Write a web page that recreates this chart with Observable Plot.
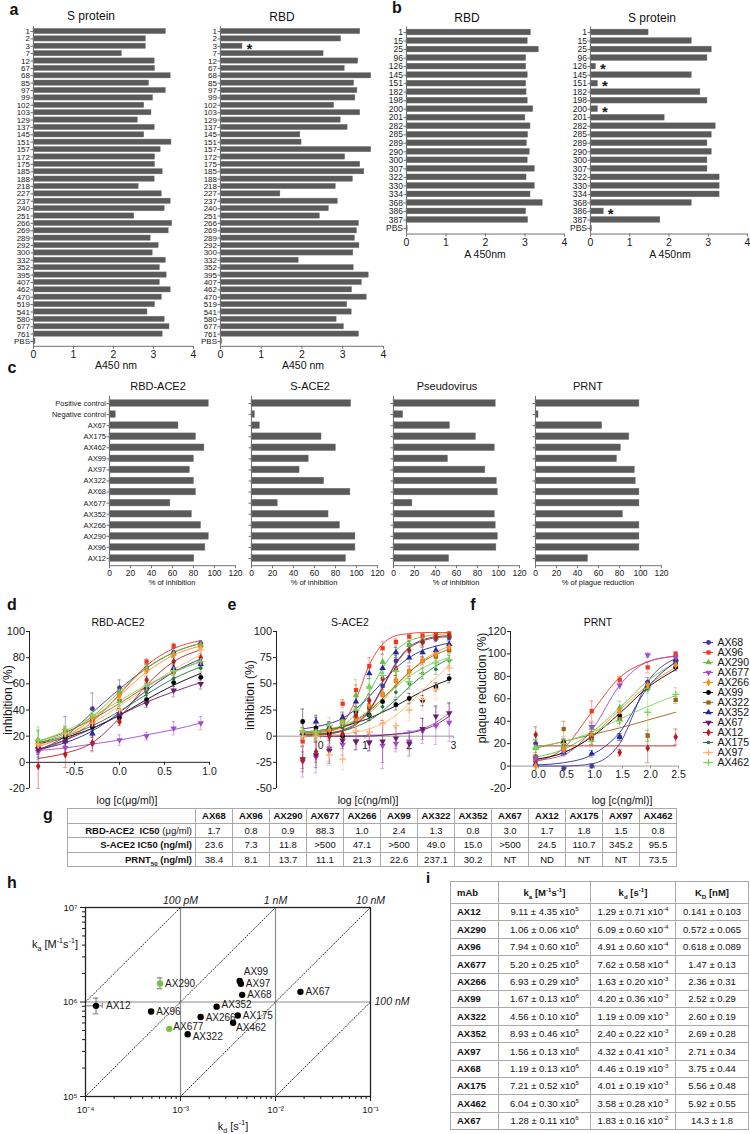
<!DOCTYPE html>
<html><head><meta charset="utf-8">
<script src="https://cdn.jsdelivr.net/npm/d3@7"></script>
<script src="https://cdn.jsdelivr.net/npm/@observablehq/plot@0.6"></script>
<style>
body{margin:0;background:#fff;}
#root{position:relative;width:750px;height:1134px;overflow:hidden;font-family:"Liberation Sans",Arial,Helvetica,sans-serif;color:#111;background:#fff;}
.abs{position:absolute;white-space:nowrap;line-height:1;}
sup,sub{font-size:65%;line-height:0;}
table.t{position:absolute;border-collapse:collapse;table-layout:fixed;font-family:"Liberation Sans",Arial,sans-serif;color:#111;}
table.t td{border:1px solid #a9a9a9;padding:0;text-align:center;line-height:1;white-space:nowrap;}
</style></head><body><div id="root"></div>
<script>
// ---------------- DATA ----------------
// panel a
const aLabels = ["1","2","3","7","12","67","68","85","97","99","102","103","129","137","145","151","157","172","175","185","188","218","227","237","240","251","266","269","289","292","300","332","352","395","407","462","470","519","541","580","677","761","PBS"];
const aSprotein = [3.31,2.81,2.81,2.21,3.03,3.04,3.43,2.89,3.31,2.99,2.77,2.95,2.61,3.03,2.77,3.45,3.18,3.04,3.04,3.23,3.03,2.63,3.21,3.43,3.28,2.52,3.47,3.38,2.93,3.13,2.98,3.31,3.16,3.33,3.16,3.43,3.21,3.04,2.85,3.28,3.40,3.23,0.05];
const aRBD = [3.43,2.96,0.54,2.53,3.38,3.05,3.70,3.28,3.36,3.31,2.79,3.43,2.95,3.12,1.96,1.99,3.70,3.06,3.43,3.53,3.25,2.83,1.47,2.88,2.66,2.44,3.40,3.35,3.30,3.41,3.26,1.92,3.27,3.64,3.47,3.23,3.59,3.11,3.22,2.85,3.03,3.40,0.04];
const aRBDstar = ["3"];
// panel b
const bLabels = ["1","15","25","96","126","145","151","182","198","200","201","282","285","289","290","300","307","322","330","334","368","386","387","PBS"];
const bRBD = [3.15,3.07,3.35,3.03,3.03,3.07,3.03,3.04,3.07,3.21,3.01,3.14,3.08,3.05,3.12,3.07,3.25,3.04,3.25,3.14,3.45,3.03,3.08,0.03];
const bSprotein = [1.48,2.58,3.09,2.98,0.14,2.58,0.19,2.80,2.98,0.19,1.89,3.19,3.09,2.98,3.09,2.98,2.98,3.29,3.29,3.29,2.58,0.34,1.78,0.04];
const bSstar = ["126","151","200","386"];
const abTicks = [0,1,2,3,4];
// panel c
const cLabels = ["Positive control","Negative control","AX67","AX175","AX462","AX99","AX97","AX322","AX68","AX677","AX352","AX266","AX290","AX96","AX12"];
const cRBDACE2 = [94.6,6,65.7,82.4,90.4,80.4,76.6,80.4,82.4,58,78.5,87.2,94.6,91.3,80.8];
const cSACE2 = [94.9,3.2,8,66.7,80.4,54.5,45.8,69.2,94.2,25,73.4,84.3,99,99,90];
const cPseudo = [97.4,9.3,53.8,78.5,96.5,51.9,87.5,98.4,99.4,18,96.5,97.4,99.4,98,53];
const cPRNT = [99,2.9,63.5,89.4,81.4,77.6,94.6,95.5,99,99,83.3,99,99,99,50];
const cTicks = [0,20,40,60,80,100,120];
// panels d, e, f (series in legend order)
const seriesNames = ["AX68","AX96","AX290","AX677","AX266","AX99","AX322","AX352","AX67","AX12","AX175","AX97","AX462"];
const dX = [-0.903,-0.602,-0.301,0,0.301,0.602,0.903];
const dPoints = [
 [9,21,41,57,72,84,91],[11,24,32,53,77,89,89],[17,23,35,54,72,83,90],[8,11,14,17,20,26,30],
 [13,22,34,51,70,82,88],[14,19,27,34,48,61,65],[15,24,33,47,56,69,75],[12,16,22,37,57,72,75],
 [10,16,29,37,45,55,60],[-3,6,15,31,63,77,80],[16,20,28,38,53,64,72],[14,22,30,40,58,70,86],
 [17,25,36,46,58,70,77]];
const dErr = [
 [5,14,12,6,3,3,2],[3,3,3,3,2,2,2],[10,3,3,3,2,2,1],[6,5,6,4,3,5,5],
 [3,3,3,3,2,2,2],[3,3,3,3,3,3,2],[3,3,3,4,3,3,3],[4,3,3,4,3,3,3],
 [4,4,4,4,3,5,4],[17,10,6,3,3,3,3],[8,3,3,3,3,3,3],[4,4,3,3,3,3,3],[8,3,3,3,3,3,3]];
const dFit = [
 [9,20,38,56,72,84,91],[9,17,31,52,74,87,93],[15,22,35,54,72,84,91],[9,11,14,17,21,25,30],
 [12,20,33,51,69,82,89],[14,19,26,36,48,59,68],[16,23,33,45,58,69,77],[10,15,24,38,55,69,79],
 [10,17,26,36,46,54,61],[3,7,15,34,59,77,86],[15,20,28,39,52,64,73],[13,20,30,43,57,71,82],
 [16,24,35,47,59,69,77]];
const eX = [-0.408,-0.107,0.194,0.495,0.796,1.097,1.398,1.699,2.0,2.301,2.602,2.903];
const ePoints = [
 [2,3,5,12,18,27,48,72,87,90,93,94],[-5,3,6,31,44,67,84,90,95,96,97,98],[3,3,8,15,39,47,71,80,87,92,94,96],
 [-24,-20,-12,-8,-5,-6,-9,-7,-5,5,10,13],[4,3,6,13,17,30,40,53,62,72,78,85],[14,8,2,0,23,20,33,30,36,34,47,55],
 [4,3,8,16,17,28,40,53,62,72,76,82],[3,14,8,18,33,60,65,80,75,80,82,88],[-22,-18,-14,-4,-5,-6,-5,-2,-7,7,19,22],
 [-23,-15,0,2,20,34,55,64,82,90,94,96],[4,2,7,8,18,20,28,42,50,60,64,72],[0,0,-18,-22,5,4,12,10,25,35,45,65],
 [5,4,10,12,25,47,58,62,52,60,70,73]];
const eErr = [
 [3,3,3,4,4,4,5,5,4,3,3,2],[5,3,3,4,5,8,6,3,2,2,2,2],[5,4,4,5,15,8,8,5,4,3,2,2],
 [15,15,12,10,8,8,22,8,8,12,18,18],[10,8,6,8,10,5,5,5,5,4,4,3],[12,10,6,5,5,5,5,5,5,5,4,4],
 [8,6,5,5,6,5,5,5,5,4,4,3],[5,6,6,5,5,5,5,5,5,5,4,3],[12,12,12,8,8,8,20,10,12,10,10,10],
 [8,10,10,8,6,6,6,6,5,4,3,2],[8,6,6,5,5,5,5,5,5,5,5,5],[10,12,10,10,10,10,10,10,10,10,10,10],
 [10,8,8,8,8,10,8,6,6,6,6,5]];
const eFit = [
 [1,2,3,6,12,25,47,70,85,92,95,96],[-1,1,4,12,35,68,88,96,98,99,99,99],[2,3,5,10,22,42,65,82,91,95,97,98],
 [0,0,0,0,0,1,1,2,4,7,13,22],[2,3,5,8,14,22,34,48,61,72,80,86],[4,5,7,9,13,17,23,29,36,43,49,54],
 [3,4,6,9,15,24,36,49,61,71,78,83],[7,9,12,17,26,38,52,65,75,82,86,89],[0,0,0,0,0,0,1,2,3,6,11,19],
 [0,1,2,5,11,24,46,69,84,91,94,95],[1,2,3,5,9,15,24,35,47,58,67,74],[0,0,1,2,4,7,12,20,31,44,56,67],
 [4,5,7,10,16,25,36,47,57,65,71,75]];
const fNames = ["AX68","AX96","AX290","AX677","AX266","AX99","AX322","AX352","AX12","AX462"];
const fX = [-0.05,0.45,0.95,1.45,1.95,2.45];
const fPoints = [[20,-2,0,26,75,92],[5,16,49,77,88,100],[16,18,34,52,70,96],[7,13,35,72,99,97],[0,15,27,49,72,90],
 [7,21,26,45,70,88],[8,33,27,42,27,59],[2,12,11,26,72,95],[28,20,24,12,16,26],[16,20,22,40,48,64]];
const fErr = [[3,2,2,3,4,3],[3,4,9,3,5,2],[8,4,4,6,5,2],[2,3,4,3,2,2],[3,3,3,3,3,3],
 [3,3,3,3,3,3],[4,7,8,4,5,3],[2,3,3,3,3,2],[7,4,5,3,13,7],[8,4,5,5,25,6]];
const fFit = [[0,0,2,20,75,96],[4,16,48,79,93,98],[8,15,30,52,76,92],[5,10,32,72,93,98],[6,12,27,50,72,88],
 [6,12,26,47,70,86],[16,22,28,34,41,48],[1,3,10,30,70,93],[18,18,18,18,18,18],[17,22,30,42,53,63]];
// panel g
const gCols = ["AX68","AX96","AX290","AX677","AX266","AX99","AX322","AX352","AX67","AX12","AX175","AX97","AX462"];
const gRBD = ["1.7","0.8","0.9","88.3","1.0","2.4","1.3","0.8","3.0","1.7","1.8","1.5","0.8"];
const gSACE2 = ["23.6","7.3","11.8",">500","47.1",">500","49.0","15.0",">500","24.5","110.7","345.2","95.5"];
const gPRNT = ["38.4","8.1","13.7","11.1","21.3","22.6","237.1","30.2","NT","ND","NT","NT","73.5"];
// panel h
const hNames = ["AX12","AX290","AX96","AX677","AX266","AX99","AX322","AX352","AX97","AX68","AX175","AX462","AX67"];
const hKd = [1.29e-4,6.09e-4,4.91e-4,7.62e-4,1.63e-3,4.20e-3,1.19e-3,2.40e-3,4.32e-3,4.46e-3,4.01e-3,3.58e-3,1.83e-2];
const hKa = [9.11e5,1.57e6,7.94e5,5.20e5,6.93e5,1.67e6,4.56e5,8.93e5,1.56e6,1.19e6,7.21e5,6.04e5,1.28e6];
const hGreen = ["AX290","AX677"];
const hErrNames = ["AX12","AX290"];
const hErrKaLo = [7.5e5,1.38e6], hErrKaHi = [1.1e6,1.8e6];
const hErrKdLo = [1.02e-4,null], hErrKdHi = [1.5e-4,null];
const hKD = [1e-10,1e-9,1e-8,1e-7];
const hKDLabel = ["100 pM","1 nM","10 nM","100 nM"];
const hKdStart = [1e-4,1e-4,1e-3,1e-2], hKdEnd = [1e-3,1e-2,1e-1,1e-1];
// panel i
const iMab = ["AX12","AX290","AX96","AX677","AX266","AX99","AX322","AX352","AX97","AX68","AX175","AX462","AX67"];
const iKa = [["9.11","4.35","5"],["1.06","0.06","6"],["7.94","0.60","5"],["5.20","0.25","5"],["6.93","0.29","5"],["1.67","0.13","6"],["4.56","0.10","5"],["8.93","0.46","5"],["1.56","0.13","6"],["1.19","0.13","6"],["7.21","0.52","5"],["6.04","0.30","5"],["1.28","0.11","6"]];
const iKd = [["1.29","0.71","-4"],["6.09","0.60","-4"],["4.91","0.60","-4"],["7.62","0.58","-4"],["1.63","0.20","-3"],["4.20","0.36","-3"],["1.19","0.09","-3"],["2.40","0.22","-3"],["4.32","0.41","-3"],["4.46","0.19","-3"],["4.01","0.19","-3"],["3.58","0.28","-3"],["1.83","0.16","-2"]];
const iKD = ["0.141 ± 0.103","0.572 ± 0.065","0.618 ± 0.089","1.47 ± 0.13","2.36 ± 0.31","2.52 ± 0.29","2.60 ± 0.19","2.69 ± 0.28","2.71 ± 0.34","3.75 ± 0.44","5.56 ± 0.48","5.92 ± 0.55","14.3 ± 1.8"];

// ---------------- STYLE ----------------
const FONT = '"Liberation Sans", Arial, Helvetica, sans-serif';
const seriesColor = {AX68:"#45389a",AX96:"#f2371e",AX290:"#5fc23a",AX677:"#a24cc8",AX266:"#ff8a1c",AX99:"#000000",AX322:"#9a6216",AX352:"#26299b",AX67:"#6a1b6a",AX12:"#b3201f",AX175:"#1f7a3d",AX97:"#ffb470",AX462:"#7ed65c"};
const seriesSym = {AX68:"circle",AX96:"square",AX290:"triangle",AX677:"triDown",AX266:"diamond",AX99:"circle",AX322:"square",AX352:"triangle",AX67:"triDown",AX12:"diamond",AX175:"circle",AX97:"plus",AX462:"plus"};
const triDown = {draw(ctx, size){ const y = -Math.sqrt(size/(Math.sqrt(3)*3)); ctx.moveTo(0,-2*y); ctx.lineTo(-Math.sqrt(3)*y, y); ctx.lineTo(Math.sqrt(3)*y, y); ctx.closePath(); }};
// label offsets in the kinetics map (px)
const hLabelOffset = {AX99:[4,-9], AX462:[3,5], AX677:[4,-2], AX322:[5,3], AX266:[5,1], AX352:[5,-2], AX12:[10,0]};
const root = document.getElementById("root");

function place(svg, left, top){ svg.style.position="absolute"; svg.style.left=left+"px"; svg.style.top=top+"px"; root.appendChild(svg); }
function T(x, y, html, o = {}){
  const el = document.createElement("div"); el.className = "abs"; el.innerHTML = html;
  Object.assign(el.style, {left:x+"px", top:y+"px", fontSize:(o.size||11)+"px", fontWeight:o.weight||"normal", fontStyle:o.italic?"italic":"normal"});
  const tx = o.anchor==="start" ? "0" : o.anchor==="end" ? "-100%" : "-50%";
  el.style.transform = `translate(${tx},-50%)` + (o.rotate ? ` rotate(${o.rotate}deg)` : "");
  root.appendChild(el);
}

function barPanel(o){
  const n = o.labels.length, pad = 0.65;
  const step = (o.lastY - o.firstY)/(n-1);
  const marginTop = o.firstY - o.top - pad*step;
  const frameBottom = o.lastY - o.top + pad*step;
  const marginBottom = 22, marginLeft = o.x0 - o.left, marginRight = 10;
  const rows = o.labels.map((k,i)=>({k, i, v:o.values[i]}));
  const ax = "#707070";
  const marks = [
    Plot.rect(rows, {x1:0, x2:"v", y1:d=>d.i-o.thick, y2:d=>d.i+o.thick, fill:"#5a5a5a", stroke:"#7a7a7a", strokeWidth:0.4}),
    Plot.ruleX([0], {stroke:ax}),
    Plot.ruleY([n-1+pad], {x1:0, x2:o.xMax, stroke:ax}),
    Plot.axisY({ticks:d3.range(n), tickFormat:i => o.showY===false ? "" : o.labels[i], tickSize:2.5, tickPadding:1, fontSize:o.yFont, label:null, stroke:ax}),
    Plot.axisX({ticks:o.xTicks, tickFormat:d=>String(d), tickSize:3, tickPadding:1.5, fontSize:o.xFont, label:null, stroke:ax})
  ];
  if (o.stars) marks.push(Plot.text(rows.filter(d=>o.stars.includes(d.k)), {x:"v", y:"i", text:()=>"*", dx:4, dy:3, textAnchor:"start", fontSize:15, fontWeight:"bold"}));
  const svg = Plot.plot({width:o.x1-o.left+marginRight, height:frameBottom+marginBottom, marginTop, marginBottom, marginLeft, marginRight,
    x:{domain:[0,o.xMax]}, y:{domain:[n-1+pad,-pad]},
    style:{fontFamily:FONT, fontSize:o.yFont+"px", color:"#1a1a1a", background:"transparent", overflow:"visible"}, marks});
  place(svg, o.left, o.top);
}

function curvePanel(o){
  const marginLeft = o.x0 - o.left, marginRight = 12, marginTop = o.yTop - o.top, marginBottom = 14;
  const pxPerUnit = (o.yBot - o.yTop)/(o.yDomain[1]-o.yDomain[0]);
  const pts = [], fit = [];
  o.names.forEach((name,s)=>{ o.xs.forEach((x,j)=>{ pts.push({name, x, v:o.pts[s][j], e:o.err[s][j]}); fit.push({name, x, v:o.fit[s][j]}); }); });
  const col = d => seriesColor[d.name];
  const cap = o.cap;
  const marks = [
    Plot.ruleY([0], {x1:o.xDomain[0], x2:o.xDomain[1], stroke:o.zeroStroke}),
    Plot.ruleX(o.xTicks, {y1:0, y2:-3/pxPerUnit, stroke:o.zeroStroke}),
    Plot.text(o.xTicks, {x:d=>d, y:0, text:o.xFmt, dy:9, fontSize:10.5}),
    Plot.ruleX([o.xDomain[0]], {stroke:"#222"}),
    Plot.axisY({ticks:o.yTicks, tickFormat:d=>String(d), tickSize:3, tickPadding:1.5, fontSize:11, label:null, stroke:"#222"}),
    Plot.line(fit, {x:"x", y:"v", z:"name", stroke:col, strokeWidth:0.9, curve:"monotone-x"}),
    Plot.ruleX(pts, {x:"x", y1:d=>d.v-d.e, y2:d=>d.v+d.e, stroke:col, strokeOpacity:0.5, strokeWidth:0.9}),
    Plot.ruleY(pts, {y:d=>d.v+d.e, x1:d=>d.x-cap, x2:d=>d.x+cap, stroke:col, strokeOpacity:0.5, strokeWidth:0.9}),
    Plot.ruleY(pts, {y:d=>d.v-d.e, x1:d=>d.x-cap, x2:d=>d.x+cap, stroke:col, strokeOpacity:0.5, strokeWidth:0.9})
  ];
  for (const sym of ["circle","square","triangle","triDown","diamond","plus"]) {
    const sub = pts.filter(d => seriesSym[d.name]===sym);
    if (!sub.length) continue;
    marks.push(Plot.dot(sub, {x:"x", y:"v", symbol: sym==="triDown" ? triDown : sym, r: d=> d.name==="AX175" ? 1.8 : 2.4,
      fill: sym==="plus" ? "none" : col, stroke: sym==="plus" ? col : "none", strokeWidth:1.3}));
  }
  const svg = Plot.plot({width:o.x1-o.left+marginRight, height:o.yBot-o.top+marginBottom, marginTop, marginBottom, marginLeft, marginRight,
    x:{domain:o.xDomain, axis:null}, y:{domain:o.yDomain}, r:{type:"identity"},
    style:{fontFamily:FONT, fontSize:"11px", color:"#1a1a1a", background:"transparent", overflow:"visible"}, marks});
  place(svg, o.left, o.top);
}

// ---------------- PANEL a ----------------
barPanel({left:0, top:0, labels:aLabels, values:aSprotein, x0:33, x1:193, xMax:4, xTicks:abTicks, firstY:31, lastY:341, thick:0.36, yFont:8, xFont:10.5});
barPanel({left:180, top:0, labels:aLabels, values:aRBD, stars:aRBDstar, x0:220, x1:383, xMax:4, xTicks:abTicks, firstY:31, lastY:341, thick:0.36, yFont:8, xFont:10.5});
// ---------------- PANEL b ----------------
barPanel({left:370, top:0, labels:bLabels, values:bRBD, x0:406, x1:564, xMax:4, xTicks:abTicks, firstY:32, lastY:228, thick:0.34, yFont:8.5, xFont:10.5});
barPanel({left:555, top:0, labels:bLabels, values:bSprotein, stars:bSstar, x0:590, x1:747, xMax:4, xTicks:abTicks, firstY:32, lastY:228, thick:0.34, yFont:8.5, xFont:10.5});
// ---------------- PANEL c ----------------
barPanel({left:0, top:380, labels:cLabels, values:cRBDACE2, x0:109, x1:235, xMax:120, xTicks:cTicks, firstY:403, lastY:558, thick:0.3, yFont:7.5, xFont:8.5});
barPanel({left:240, top:380, labels:cLabels, values:cSACE2, showY:false, x0:251, x1:377, xMax:120, xTicks:cTicks, firstY:403, lastY:558, thick:0.3, yFont:7.5, xFont:8.5});
barPanel({left:382, top:380, labels:cLabels, values:cPseudo, showY:false, x0:393, x1:519, xMax:120, xTicks:cTicks, firstY:403, lastY:558, thick:0.3, yFont:7.5, xFont:8.5});
barPanel({left:524, top:380, labels:cLabels, values:cPRNT, showY:false, x0:535, x1:661, xMax:120, xTicks:cTicks, firstY:403, lastY:558, thick:0.3, yFont:7.5, xFont:8.5});
// ---------------- PANELS d e f ----------------
curvePanel({left:0, top:620, x0:29, x1:209, yTop:631, yBot:788, xDomain:[-1,1], yDomain:[-20,100], yTicks:[-20,0,20,40,60,80,100],
  xTicks:[-0.5,0,0.5,1], xFmt:d=>d.toFixed(1), names:seriesNames, xs:dX, pts:dPoints, err:dErr, fit:dFit, zeroStroke:"#222", cap:0.02});
curvePanel({left:240, top:620, x0:276, x1:453, yTop:631, yBot:788, xDomain:[-1,3], yDomain:[-50,100], yTicks:[-50,-25,0,25,50,75,100],
  xTicks:[0,1,2,3], xFmt:d=>String(d), names:seriesNames, xs:eX, pts:ePoints, err:eErr, fit:eFit, zeroStroke:"#9a9a9a", cap:0.04});
curvePanel({left:480, top:620, x0:510, x1:678, yTop:631, yBot:788, xDomain:[-0.5,2.5], yDomain:[-20,120], yTicks:[-20,0,20,40,60,80,100,120],
  xTicks:[0,0.5,1,1.5,2,2.5], xFmt:d=>d.toFixed(1), names:fNames, xs:fX, pts:fPoints, err:fErr, fit:fFit, zeroStroke:"#9a9a9a", cap:0.04});
// legend
{
  const rows = seriesNames.map(name=>({name}));
  const col = d => seriesColor[d.name];
  const marks = [Plot.ruleY(rows, {y:"name", x1:0, x2:1, stroke:col, strokeWidth:1})];
  for (const sym of ["circle","square","triangle","triDown","diamond","plus"]) {
    const sub = rows.filter(d=>seriesSym[d.name]===sym);
    marks.push(Plot.dot(sub, {x:0.5, y:"name", symbol: sym==="triDown" ? triDown : sym, r: d=> d.name==="AX175" ? 1.8 : 2.4,
      fill: sym==="plus" ? "none" : col, stroke: sym==="plus" ? col : "none", strokeWidth:1.3}));
  }
  marks.push(Plot.text(rows, {x:1.4, y:"name", text:"name", textAnchor:"start", fontSize:10.5}));
  const svg = Plot.plot({width:48, height:150, marginLeft:0, marginRight:0, marginTop:0, marginBottom:0,
    x:{domain:[0,1], range:[0,10], axis:null}, y:{type:"point", domain:seriesNames, range:[7,137], padding:0, axis:null}, r:{type:"identity"},
    style:{fontFamily:FONT, fontSize:"10.5px", color:"#111", background:"transparent", overflow:"visible"}, marks});
  place(svg, 703, 630);
}
// ---------------- PANEL h ----------------
{
  const rows = hNames.map((name,i)=>({name, kd:hKd[i], ka:hKa[i]}));
  const diag = [];
  hKD.forEach((KD,i)=>{ [hKdStart[i], hKdEnd[i]].forEach(kd=>diag.push({KD, kd, ka:kd/KD})); });
  const kdLab = hKD.map((KD,i)=>({t:hKDLabel[i], kd:hKdEnd[i], ka:hKdEnd[i]/KD}));
  const err = hErrNames.map((name,i)=>({name, kd:hKd[hNames.indexOf(name)], ka:hKa[hNames.indexOf(name)], kaLo:hErrKaLo[i], kaHi:hErrKaHi[i], kdLo:hErrKdLo[i], kdHi:hErrKdHi[i]}));
  const errX = err.filter(d=>d.kdLo!=null);
  const supMap = {"-":"⁻","0":"⁰","1":"¹","2":"²","3":"³","4":"⁴","5":"⁵","6":"⁶","7":"⁷","8":"⁸","9":"⁹"};
  const sup = d => "10" + String(Math.round(Math.log10(d))).split("").map(c=>supMap[c]).join("");
  const minor = (a,b) => { const r=[]; for (let e=a;e<b;e++) for (let m=2;m<=9;m++) r.push(m*Math.pow(10,e)); return r; };
  const labelMarks = hNames.map(name => {
    const [dx, dy] = hLabelOffset[name] || [5, 0];
    return Plot.text(rows.filter(d=>d.name===name), {x:"kd", y:"ka", text:"name", textAnchor:"start", fontSize:10, dx, dy});
  });
  const gcol = "#8c8c8c";
  const svg = Plot.plot({width:400, height:228, marginLeft:85, marginRight:30, marginTop:17, marginBottom:22,
    x:{type:"log", domain:[1e-4,1e-1]}, y:{type:"log", domain:[1e5,1e7]},
    style:{fontFamily:FONT, fontSize:"9px", color:"#1a1a1a", background:"transparent", overflow:"visible"},
    marks:[
      Plot.ruleX([1e-3,1e-2], {stroke:gcol, strokeWidth:1.2}),
      Plot.ruleY([1e6], {stroke:gcol, strokeWidth:1.2}),
      Plot.line(diag, {x:"kd", y:"ka", z:"KD", stroke:"#222", strokeWidth:1, strokeDasharray:"1,2"}),
      Plot.frame({stroke:"#222", strokeWidth:1.3}),
      Plot.axisX({ticks:[1e-4,1e-3,1e-2,1e-1], tickFormat:sup, tickSize:5, tickPadding:5, fontSize:9.5, label:null}),
      Plot.axisX({ticks:minor(-4,-1), tickFormat:()=>"", tickSize:3, label:null}),
      Plot.axisY({ticks:[1e5,1e6,1e7], tickFormat:sup, tickSize:5, tickPadding:3, fontSize:9.5, label:null}),
      Plot.axisY({ticks:minor(5,7), tickFormat:()=>"", tickSize:3, label:null}),
      Plot.text(kdLab.slice(0,3), {x:"kd", y:"ka", text:"t", dy:-7, fontStyle:"italic", fontSize:10.5}),
      Plot.text(kdLab.slice(3), {x:"kd", y:"ka", text:"t", dx:4, textAnchor:"start", fontStyle:"italic", fontSize:10.5}),
      Plot.ruleX(err, {x:"kd", y1:"kaLo", y2:"kaHi", stroke:"#777"}),
      Plot.ruleY(err, {y:"kaLo", x1:d=>d.kd/1.07, x2:d=>d.kd*1.07, stroke:"#777"}),
      Plot.ruleY(err, {y:"kaHi", x1:d=>d.kd/1.07, x2:d=>d.kd*1.07, stroke:"#777"}),
      Plot.ruleY(errX, {y:"ka", x1:"kdLo", x2:"kdHi", stroke:"#777"}),
      Plot.ruleX(errX, {x:"kdHi", y1:d=>d.ka/1.07, y2:d=>d.ka*1.07, stroke:"#777"}),
      Plot.dot(rows, {x:"kd", y:"ka", r:3.2, fill:d=>hGreen.includes(d.name) ? "#79c142" : "#000", stroke:"none"}),
      ...labelMarks
    ]});
  place(svg, 0, 890);
}
// ---------------- TABLE g ----------------
{
  const t = document.createElement("table"); t.className = "t";
  Object.assign(t.style, {left:"67px", top:"808px", width:"609px", fontSize:"9.5px", border:"1px solid #555"});
  const cg = document.createElement("colgroup");
  cg.innerHTML = `<col style="width:128px">` + gCols.map(()=>`<col style="width:37px">`).join("");
  t.appendChild(cg);
  const mk = (label, vals, bold) => `<tr style="height:14.5px"><td style="text-align:right;padding-right:3px;font-weight:bold">${label}</td>` + vals.map(v=>`<td style="font-weight:${bold?"bold":"normal"}">${v}</td>`).join("") + `</tr>`;
  t.innerHTML += mk("", gCols, true) + mk("RBD-ACE2&nbsp;&nbsp;IC50 <span style='font-weight:normal'>(μg/ml)</span>", gRBD) + mk("S-ACE2 IC50 (ng/ml)", gSACE2) + mk("PRNT<sub>50</sub> (ng/ml)", gPRNT);
  root.appendChild(t);
}
// ---------------- TABLE i ----------------
{
  const t = document.createElement("table"); t.className = "t";
  Object.assign(t.style, {left:"450px", top:"881px", width:"298px", fontSize:"9.5px", border:"1.5px solid #444"});
  const cg = document.createElement("colgroup");
  cg.innerHTML = `<col style="width:48px"><col style="width:92px"><col style="width:85px"><col style="width:73px">`;
  t.appendChild(cg);
  let h = `<tr style="height:22px;font-weight:bold"><td style="text-align:left;padding-left:6px">mAb</td><td>k<sub>a</sub> [M<sup>-1</sup>s<sup>-1</sup>]</td><td>k<sub>d</sub> [s<sup>-1</sup>]</td><td>K<sub>D</sub> [nM]</td></tr>`;
  iMab.forEach((m,i)=>{
    h += `<tr style="height:17.4px"><td style="text-align:left;padding-left:6px;font-weight:bold">${m}</td><td>${iKa[i][0]} ± ${iKa[i][1]} x10<sup>${iKa[i][2]}</sup></td><td>${iKd[i][0]} ± ${iKd[i][1]} x10<sup>${iKd[i][2]}</sup></td><td>${iKD[i]}</td></tr>`;
  });
  t.innerHTML += h;
  root.appendChild(t);
}
// ---------------- TEXT ----------------
const L = {size:16, weight:"bold"};
T(14,10,"a",L); T(397,8,"b",L); T(12,368,"c",L); T(12,605,"d",L); T(232,605,"e",L); T(473,605,"f",L); T(48,815,"g",L); T(12,883,"h",L);
T(428,877,"i",{size:15, weight:"bold"});
T(91,16,"S protein",{size:12}); T(282,17,"RBD",{size:12});
T(116,365,"A450 nm",{size:10.5}); T(303,365,"A450 nm",{size:10.5});
T(467,18,"RBD",{size:12}); T(652,18,"S protein",{size:12});
T(485,254,"A 450nm",{size:10.5}); T(670,254,"A 450nm",{size:10.5});
T(158,386,"RBD-ACE2",{size:11}); T(310,386,"S-ACE2",{size:11}); T(447,386,"Pseudovirus",{size:11}); T(588,386,"PRNT",{size:11});
T(172,583,"% of inhibition",{size:7.5}); T(314,583,"% of inhibition",{size:7.5}); T(456,583,"% of inhibition",{size:7.5}); T(598,583,"% of plague reduction",{size:7.5});
T(118,622,"RBD-ACE2",{size:10.5}); T(350,622,"S-ACE2",{size:10.5}); T(598,622,"PRNT",{size:10.5});
T(8,700,"inhibition (%)",{size:12,rotate:-90}); T(250,695,"inhibition (%)",{size:12,rotate:-90}); T(482,688,"plaque reduction (%)",{size:12,rotate:-90});
T(127,800,"log [c(μg/ml)]",{size:10.5}); T(368,800,"log [c(ng/ml)]",{size:10.5}); T(622,800,"log [c(ng/ml)]",{size:10.5});
T(78,944,"k<sub>a</sub> [M<sup>-1</sup>s<sup>-1</sup>]",{size:11,anchor:"end"}); T(233,1126,"k<sub>d</sub> [s<sup>-1</sup>]",{size:11});
</script></body></html>
